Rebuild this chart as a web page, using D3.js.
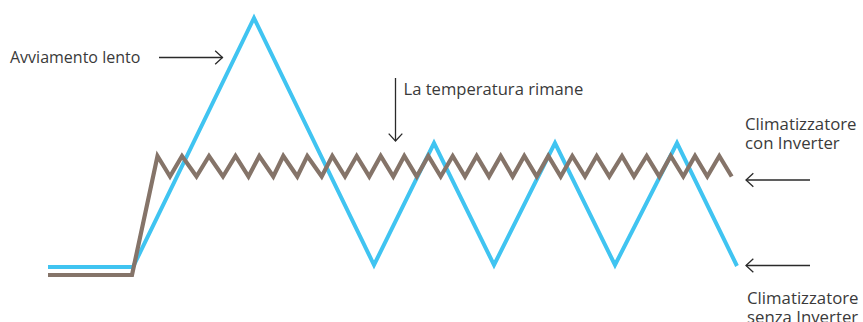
<!DOCTYPE html>
<html>
<head>
<meta charset="utf-8">
<script src="https://cdn.jsdelivr.net/npm/d3@7"></script>
<style>
  html, body { margin: 0; padding: 0; background: #ffffff; }
  svg { display: block; }
  text { font-family: "Open Sans", "Noto Sans", sans-serif; fill: #3a3a3a; }
</style>
</head>
<body>
<div id="chart"></div>
<script>
// ---- Data (time units, temperature units) ----
// Climatizzatore senza Inverter (blue)
const noInverterTime = [0, 85, 206, 326, 386, 446, 507, 567, 629, 689];
const noInverterTemp = [8, 8, 257, 10, 132, 10, 132, 10, 132, 9];

// Climatizzatore con Inverter (brown): flat, ramp, then oscillation
const inverterTime = [0, 84, 109.5, 122, 134, 148.5, 161, 175, 187.5, 200.5, 211.3, 225.3, 235.3, 249.3,
  259.3, 273.7, 284.3, 297, 308.7, 321.3, 332.7, 345.3, 356.3, 368.7, 380.3, 392.7, 404.7, 417,
  428.7, 441, 452.7, 464.7, 476.3, 488.7, 500.3, 512.7, 524.3, 537, 548.7, 561.3, 574, 586,
  598.7, 611.3, 622.7, 635.3, 647, 659.3, 671.3, 683.7];
const inverterTemp = [0, 0, 119, 98.5, 119, 98.5, 119, 98.5, 119, 98.5, 119, 98.5, 119, 98.5,
  119, 98.5, 119, 98.5, 119, 98.5, 119, 98.5, 119, 98.5, 119, 98.5, 119, 98.5,
  119, 98.5, 119, 98.5, 119, 98.5, 119, 98.5, 119, 98.5, 119, 98.5, 119, 98.5,
  119, 98.5, 119, 98.5, 119, 98.5, 119, 98.5];

// Annotation texts
const labelSlowStart = "Avviamento lento";
const labelTempStays = "La temperatura rimane";
const labelWithInverter = ["Climatizzatore", "con Inverter"];
const labelWithoutInverter = ["Climatizzatore", "senza Inverter"];

// ---- Layout ----
const W = 863, H = 322;
const svg = d3.select("#chart").append("svg").attr("width", W).attr("height", H);
svg.append("rect").attr("width", W).attr("height", H).attr("fill", "#ffffff");

const x = d3.scaleLinear().domain([0, 690]).range([48, 738]);
const y = d3.scaleLinear().domain([0, 260]).range([275, 15]);

const blue = "#40c4f1", brown = "#857469", ink = "#2a2a2a";

const line = d3.line().x(d => x(d[0])).y(d => y(d[1]));

svg.append("path")
  .datum(noInverterTime.map((t, i) => [t, noInverterTemp[i]]))
  .attr("d", line).attr("fill", "none").attr("stroke", blue)
  .attr("stroke-width", 4).attr("stroke-linejoin", "miter");

svg.append("path")
  .datum(inverterTime.map((t, i) => [t, inverterTemp[i]]))
  .attr("d", line).attr("fill", "none").attr("stroke", brown)
  .attr("stroke-width", 4.2).attr("stroke-linejoin", "miter");

// arrows
function arrow(x1, y1, x2, y2) {
  const g = svg.append("g").attr("stroke", ink).attr("stroke-width", 1.3).attr("fill", "none");
  g.append("line").attr("x1", x1).attr("y1", y1).attr("x2", x2).attr("y2", y2);
  const ang = Math.atan2(y2 - y1, x2 - x1);
  const L = 10, a = Math.PI / 4.2;
  const p = [
    [x2 - L * Math.cos(ang - a), y2 - L * Math.sin(ang - a)],
    [x2, y2],
    [x2 - L * Math.cos(ang + a), y2 - L * Math.sin(ang + a)]
  ];
  g.append("path").attr("d", d3.line()(p));
}

arrow(159, 57.5, 222.5, 57.5);
arrow(395.5, 78, 395.5, 141);
arrow(810, 180, 746, 180);
arrow(810, 265.5, 746, 265.5);

svg.append("text").attr("x", 10).attr("y", 62.5).attr("font-size", 16).text(labelSlowStart);
svg.append("text").attr("x", 403.5).attr("y", 94.5).attr("font-size", 16.6).text(labelTempStays);

const fs = 16.8;
labelWithInverter.forEach((s, i) =>
  svg.append("text").attr("x", 745).attr("y", 129.5 + i * 19.5).attr("font-size", fs).text(s));
labelWithoutInverter.forEach((s, i) =>
  svg.append("text").attr("x", 747).attr("y", 303.5 + i * 19.5).attr("font-size", fs).text(s));
</script>
</body>
</html>
